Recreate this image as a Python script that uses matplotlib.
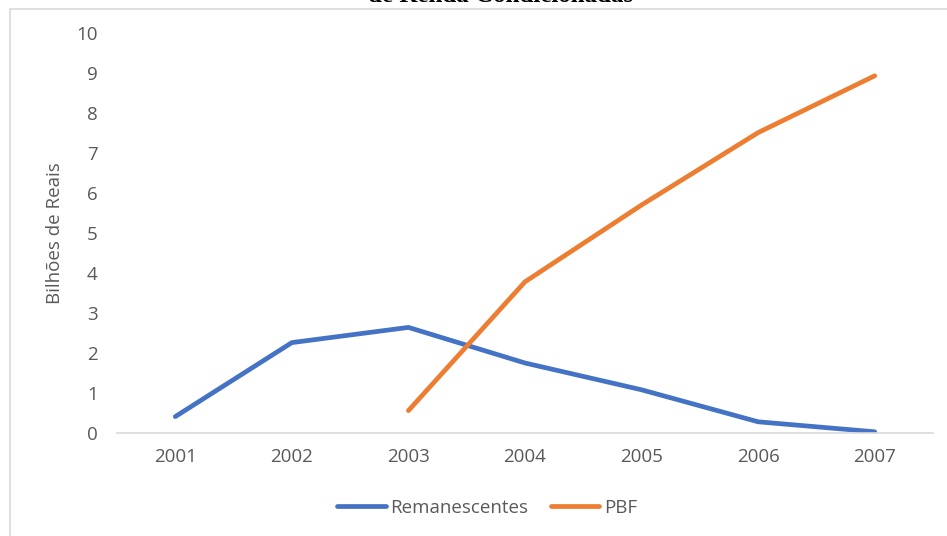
import matplotlib.pyplot as plt
from matplotlib.patches import Rectangle

anos = [2001, 2002, 2003, 2004, 2005, 2006, 2007]
remanescentes = [0.41, 2.26, 2.64, 1.75, 1.08, 0.28, 0.03]
pbf_anos = [2003, 2004, 2005, 2006, 2007]
pbf = [0.56, 3.78, 5.70, 7.51, 8.93]
yticks = list(range(0, 11))

plt.rcParams['font.family'] = ['Open Sans', 'DejaVu Sans']

W, H = 947, 536
fig = plt.figure(figsize=(W / 100, H / 100), dpi=100)
ax = fig.add_axes([117 / W, 1 - 433 / H, (933 - 117) / W, 400 / H])

ax.plot(anos, remanescentes, color='#4472C4', lw=3.4, solid_capstyle='round',
        solid_joinstyle='round', label='Remanescentes')
ax.plot(pbf_anos, pbf, color='#ED7D31', lw=3.4, solid_capstyle='round',
        solid_joinstyle='round', label='PBF')

ax.set_xlim(2000.5, 2007.5)
ax.set_ylim(0, 10)
ax.set_xticks(anos)
ax.set_xticklabels([str(a) for a in anos])
ax.set_yticks(yticks)
for s in ['top', 'right', 'left']:
    ax.spines[s].set_visible(False)
ax.spines['bottom'].set_color('#d9d9d9')
ax.spines['bottom'].set_linewidth(1.2)
ax.tick_params(length=0, labelsize=13.5, colors='#595959', pad=0)
ax.tick_params(axis='x', pad=11)
ax.tick_params(axis='y', pad=14)
ax.set_ylabel('Bilhões de Reais', fontsize=13.5, color='#595959', labelpad=9)

ax.legend(loc='center', bbox_to_anchor=(487 / W, 1 - 508 / H), bbox_transform=fig.transFigure,
          ncol=2, frameon=False, fontsize=13.5, labelcolor='#595959',
          handlelength=2.6, handletextpad=0.25, columnspacing=1.2)

# moldura do gráfico
fig.patches.append(Rectangle((9.5 / W, -0.1), 1.2, 1 - 8.5 / H + 0.1,
                             transform=fig.transFigure, fill=False,
                             edgecolor='#d9d9d9', lw=1.2))
# título (cortado no topo, como na imagem original)
fig.text(501 / W, 1 - 2.5 / H, 'de Renda Condicionadas', ha='center', va='baseline',
         fontsize=18, fontweight='bold', family='Liberation Serif', color='black')

fig.savefig('out.png', dpi=100)
